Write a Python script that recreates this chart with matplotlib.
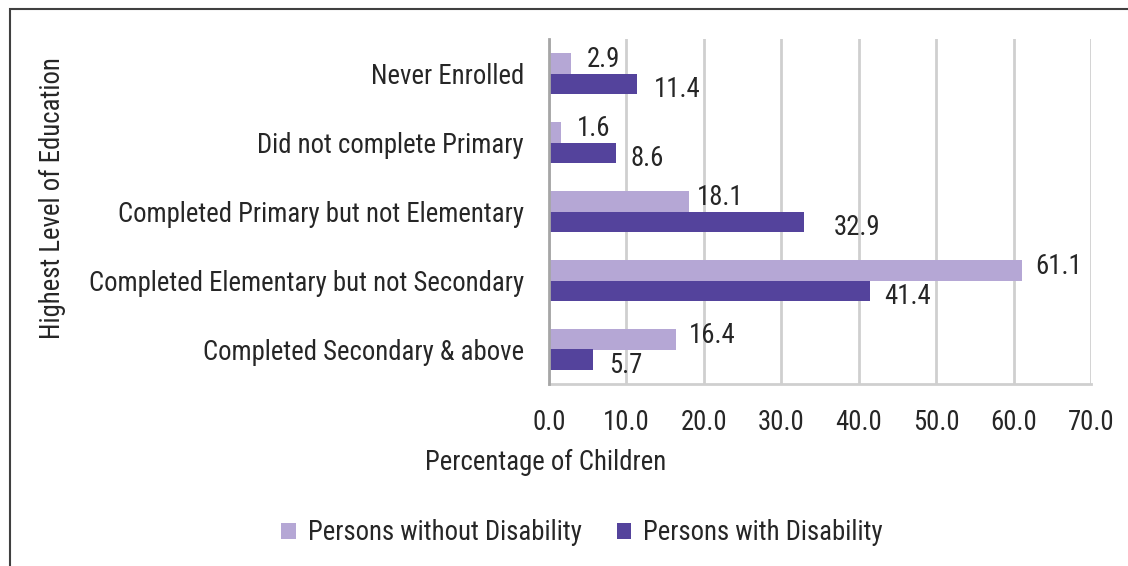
import matplotlib
matplotlib.use("Agg")
import matplotlib.pyplot as plt
from matplotlib.patches import Rectangle
import numpy as np

plt.rcParams['font.family'] = ['Roboto Condensed', 'DejaVu Sans']

categories = ["Never Enrolled",
              "Did not complete Primary",
              "Completed Primary but not Elementary",
              "Completed Elementary but not Secondary",
              "Completed Secondary & above"]
without_dis = [2.9, 1.6, 18.1, 61.1, 16.4]
with_dis = [11.4, 8.6, 32.9, 41.4, 5.7]
xticks = [0, 10, 20, 30, 40, 50, 60, 70]

c_light = "#b5a7d5"
c_dark = "#54439c"
txt = "#262626"
fs = 19.3

fig = plt.figure(figsize=(11.28, 5.66), dpi=100)
ax = fig.add_axes([549/1128, 1-384/566, (1091-549)/1128, (384-39)/566])

y = np.arange(len(categories))
h = 0.29
ax.barh(y - h/2, without_dis, height=h, color=c_light, label="Persons without Disability", zorder=3)
ax.barh(y + h/2, with_dis, height=h, color=c_dark, label="Persons with Disability", zorder=3)

# label offsets in px (Excel moved a couple by hand)
dx_light = [15, 15, 8, 13, 13]
dx_dark = [17, 15, 30, 15, 16]
for i in range(len(categories)):
    ax.annotate("%.1f" % without_dis[i], (without_dis[i], y[i] - h/2), xytext=(dx_light[i]*0.72, 3),
                textcoords="offset points", ha="left", va="center", fontsize=fs, color=txt)
    ax.annotate("%.1f" % with_dis[i], (with_dis[i], y[i] + h/2), xytext=(dx_dark[i]*0.72, -4),
                textcoords="offset points", ha="left", va="center", fontsize=fs, color=txt)

ax.set_ylim(len(categories) - 0.5, -0.5)
ax.set_xlim(0, 70)
ax.set_xticks(xticks)
ax.set_xticklabels(["%.1f" % v for v in xticks])
ax.set_yticks(y)
ax.set_yticklabels(categories)
ax.tick_params(axis='both', length=0, labelsize=fs, colors=txt)
ax.tick_params(axis='y', pad=18)
ax.tick_params(axis='x', pad=18)
ax.grid(axis='x', color="#cfcfcf", linewidth=2, zorder=0)
for s in ["top", "right"]:
    ax.spines[s].set_visible(False)
ax.spines["left"].set_color("#a6a6a6")
ax.spines["left"].set_linewidth(2)
ax.spines["left"].set_zorder(4)
ax.spines["bottom"].set_color("#cfcfcf")
ax.spines["bottom"].set_linewidth(2)

fig.text(52/1128, 1-198/566, "Highest Level of Education", rotation=90, ha="center", va="center",
         fontsize=fs, color=txt)
fig.text(546/1128, 1-462/566, "Percentage of Children", ha="center", va="center",
         fontsize=fs, color=txt)

fig.legend(loc="center", bbox_to_anchor=(582/1128, 1-533/566), ncol=2, frameon=False,
           fontsize=fs, handlelength=0.55, handleheight=0.55, handletextpad=0.45,
           columnspacing=1.3, labelcolor=txt)

fig.patches.append(Rectangle((10/1128, -0.1), 1.2, 1-9/566+0.1, transform=fig.transFigure,
                             fill=False, edgecolor="#404040", linewidth=1.5))

fig.savefig("out.png", dpi=100)
